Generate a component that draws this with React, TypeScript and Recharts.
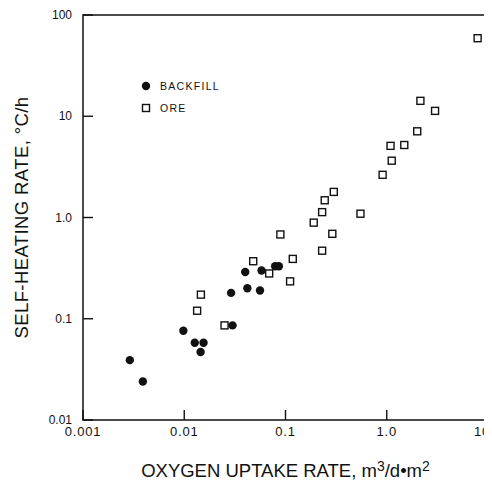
import React from 'react';
import { ScatterChart, Scatter, XAxis, YAxis, ReferenceArea, Legend } from 'recharts';

// Oxygen uptake rate (m3/d.m2) vs self-heating rate (C/h)
const backfillX = [0.0029, 0.0039, 0.0098, 0.0127, 0.0155, 0.0145, 0.030, 0.040, 0.058, 0.079, 0.086, 0.029, 0.042, 0.056];
const backfillY = [0.039, 0.024, 0.076, 0.058, 0.058, 0.047, 0.086, 0.29, 0.30, 0.33, 0.33, 0.18, 0.20, 0.19];

const oreX = [0.0146, 0.0134, 0.025, 0.048, 0.069, 0.118, 0.111, 0.089, 0.23, 0.29, 0.19, 0.23, 0.244, 0.30, 0.55, 0.91, 1.12, 1.09, 1.49, 2.0, 2.15, 3.0, 7.9];
const oreY = [0.173, 0.120, 0.086, 0.37, 0.28, 0.39, 0.234, 0.68, 0.47, 0.69, 0.89, 1.13, 1.48, 1.79, 1.09, 2.64, 3.64, 5.1, 5.2, 7.1, 14.2, 11.3, 59];

const xTicks = [0.001, 0.01, 0.1, 1, 10];
const xTickLabels = ['0.001', '0.01', '0.1', '1.0', '10'];
const yTicks = [0.01, 0.1, 1, 10, 100];
const yTickLabels = ['0.01', '0.1', '1.0', '10', '100'];

const backfill = backfillX.map((x, i) => ({ x, y: backfillY[i] }));
const ore = oreX.map((x, i) => ({ x, y: oreY[i] }));

const INK = '#111';
const FONT = '"Liberation Sans", Arial, sans-serif';

// label plus a short tick pointing into the plot
const XTick = (props: any) => {
  const { x, y, payload } = props;
  const i = xTicks.indexOf(payload.value);
  const last = i === xTicks.length - 1;
  return (
    <g>
      <path d={`M${x},${y}V${y - 10}`} stroke={INK} strokeWidth={1.4} fill="none" />
      <text
        x={last ? x + 2 : x}
        y={y + 16}
        textAnchor={last ? 'end' : 'middle'}
        fontSize={13}
        letterSpacing={0.8}
        fill={INK}
        fontFamily={FONT}
      >
        {xTickLabels[i]}
      </text>
    </g>
  );
};

const YTick = (props: any) => {
  const { x, y, payload } = props;
  const label = yTickLabels[yTicks.indexOf(payload.value)];
  return (
    <g>
      <path d={`M${x},${y}H${x + 10}`} stroke={INK} strokeWidth={1.4} fill="none" />
      <text x={x - 11} y={y} dy="0.35em" textAnchor="end" fontSize={12} fill={INK} fontFamily={FONT}>
        {label}
      </text>
    </g>
  );
};

const XTitle = (props: any) => {
  const { x, y, width, height } = props.viewBox;
  const cx = x + width / 2;
  const by = y + height - 6;
  return (
    <text x={cx} y={by} textAnchor="middle" fontSize={18.5} fill={INK} fontFamily={FONT}>
      OXYGEN UPTAKE RATE,  m<tspan dy={-6} fontSize={14}>3</tspan>
      <tspan dy={6}>/d•m</tspan>
      <tspan dy={-6} fontSize={14}>2</tspan>
    </text>
  );
};

const YTitle = (props: any) => {
  const { x, y, height } = props.viewBox;
  const cx = x + 13;
  const cy = y + height / 2;
  return (
    <text
      x={cx}
      y={cy}
      transform={`rotate(-90 ${cx} ${cy})`}
      textAnchor="middle"
      dominantBaseline="central"
      fontSize={18.5}
      letterSpacing={0.4}
      fill={INK}
      fontFamily={FONT}
    >
      SELF-HEATING RATE,  °C/h
    </text>
  );
};

const Dot = (props: any) => <circle cx={props.cx} cy={props.cy} r={4.2} fill={INK} />;
const Box = (props: any) => (
  <rect x={props.cx - 3.5} y={props.cy - 3.5} width={7} height={7} fill="#fff" stroke={INK} strokeWidth={1.4} />
);

const LegendBox = () => (
  <div style={{ fontFamily: FONT, fontSize: 10.5, letterSpacing: 1.3, color: INK }}>
    <div style={{ display: 'flex', alignItems: 'center', height: 14, marginBottom: 8 }}>
      <svg width={10} height={10}>
        <circle cx={5} cy={5} r={4.2} fill={INK} />
      </svg>
      <span style={{ marginLeft: 9 }}>BACKFILL</span>
    </div>
    <div style={{ display: 'flex', alignItems: 'center', height: 14 }}>
      <svg width={10} height={10}>
        <rect x={1.5} y={1.5} width={7} height={7} fill="#fff" stroke={INK} strokeWidth={1.4} />
      </svg>
      <span style={{ marginLeft: 9 }}>ORE</span>
    </div>
  </div>
);

export default function App() {
  return (
    <div style={{ fontFamily: FONT }}>
      <ScatterChart width={484} height={475} margin={{ top: 7, right: 4, bottom: 0, left: 0 }}>
        <ReferenceArea
          x1={0.001}
          x2={10}
          y1={0.01}
          y2={100}
          fill="none"
          fillOpacity={0}
          stroke={INK}
          strokeWidth={1.5}
          ifOverflow="visible"
        />
        <XAxis
          dataKey="x"
          type="number"
          scale="log"
          domain={[0.001, 10]}
          ticks={xTicks}
          interval={0}
          allowDataOverflow
          axisLine={false}
          tickLine={false}
          tickSize={0}
          tickMargin={0}
          height={63}
          tick={<XTick />}
          label={<XTitle />}
        />
        <YAxis
          dataKey="y"
          type="number"
          scale="log"
          domain={[0.01, 100]}
          ticks={yTicks}
          interval={0}
          allowDataOverflow
          axisLine={false}
          tickLine={false}
          tickSize={0}
          tickMargin={0}
          width={75}
          tick={<YTick />}
          label={<YTitle />}
        />
        <Legend
          verticalAlign="middle"
          align="center"
          layout="horizontal"
          content={<LegendBox />}
          wrapperStyle={{ left: 133, top: 71, width: 120 }}
        />
        <Scatter name="ORE" data={ore} shape={<Box />} isAnimationActive={false} />
        <Scatter name="BACKFILL" data={backfill} shape={<Dot />} isAnimationActive={false} />
      </ScatterChart>
    </div>
  );
}
